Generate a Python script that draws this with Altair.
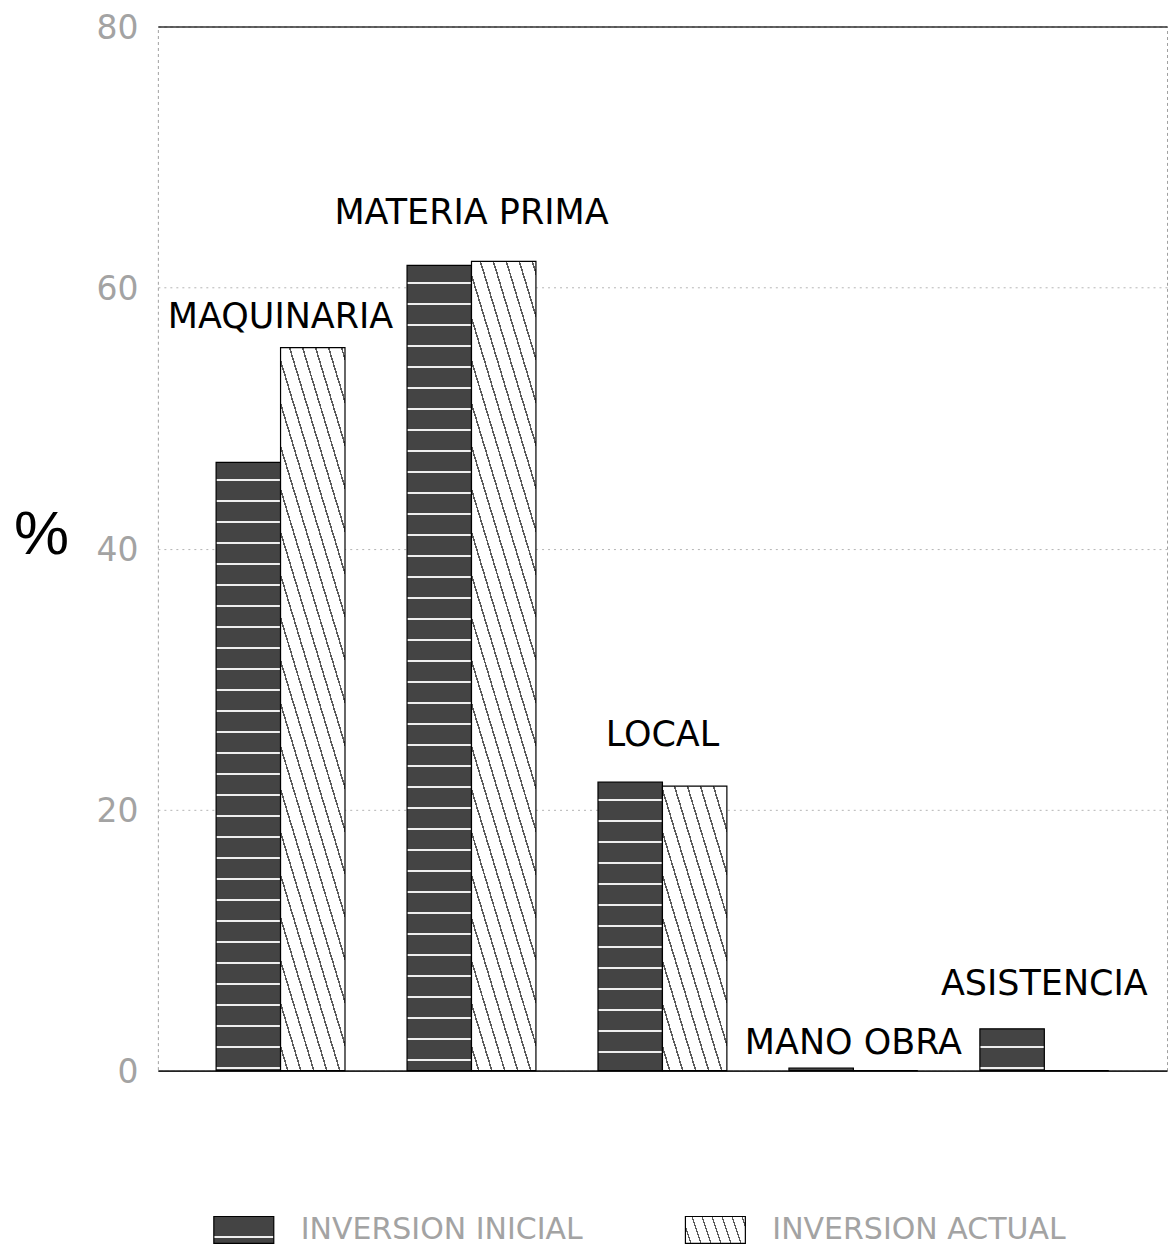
import altair as alt

# ---------------- data ----------------
categories = ["MAQUINARIA", "MATERIA PRIMA", "LOCAL", "MANO OBRA", "ASISTENCIA"]
series = ["INVERSION INICIAL", "INVERSION ACTUAL"]
inicial = [46.6, 61.7, 22.1, 0.2, 3.2]
actual = [55.4, 62.0, 21.8, 0.0, 0.0]
label_y = [56.9, 64.9, 24.9, 1.3, 5.8]
y_ticks = [0, 20, 40, 60, 80]

# ---------------- layout / style ----------------
W = 1010
H = 1045
Y_MAX = 80
P_IN = 0.325
P_OUT = 0.305
STEP = W / (len(categories) - P_IN + 2 * P_OUT)
BAR_W = STEP * (1 - P_IN) / 2

DARK = "#444444"
LIGHT = "#eeeeee"
INK = "#5a5a5a"


def horiz_stripes(h, first=17, gap=21, lw=2.0):
    stops = [{"offset": 0, "color": DARK}]
    p = first
    while h > 0 and p + lw < h:
        a, b = p / h, (p + lw) / h
        stops += [
            {"offset": a, "color": DARK},
            {"offset": a, "color": LIGHT},
            {"offset": b, "color": LIGHT},
            {"offset": b, "color": DARK},
        ]
        p += gap
    stops.append({"offset": 1, "color": DARK})
    return {"gradient": "linear", "x1": 0, "y1": 0, "x2": 0, "y2": 1, "stops": stops}


def hatch(w, h, spacing=13.0, slope=3.3, lw=1.6):
    if h <= 0.5:
        return "white"
    k = h / (slope * w)
    s = (1 + k) / (1 + k * k)
    n = (1 + k) * w / spacing
    d = 1.0 / n
    f = lw / spacing * d
    stops = [{"offset": 0, "color": "white"}]
    t = d * 0.5
    while t + f < 1:
        stops += [
            {"offset": t, "color": "white"},
            {"offset": t, "color": INK},
            {"offset": t + f, "color": INK},
            {"offset": t + f, "color": "white"},
        ]
        t += d
    stops.append({"offset": 1, "color": "white"})
    return {"gradient": "linear", "x1": 0, "y1": 1, "x2": s, "y2": 1 - s * k, "stops": stops}


px = H / Y_MAX
bar_rows = []
for c, vi, va in zip(categories, inicial, actual):
    bar_rows.append({"cat": c, "serie": series[0], "v": vi, "g": horiz_stripes(vi * px)})
    bar_rows.append({"cat": c, "serie": series[1], "v": va, "g": hatch(BAR_W, va * px)})

label_rows = [{"cat": c, "ly": y} for c, y in zip(categories, label_y)]

x_scale = alt.Scale(domain=categories, paddingInner=P_IN, paddingOuter=P_OUT)
y_scale = alt.Scale(domain=[0, Y_MAX], nice=False)
y_axis = alt.Axis(values=y_ticks, grid=True, gridColor="#b5b5b5", gridDash=[2, 4],
                  gridWidth=1, domain=False, ticks=False,
                  labelColor="#a3a3a3", labelFont="DejaVu Sans", labelFontSize=33,
                  labelPadding=20, labelOffset=2,
                  title="%", titleAngle=0, titleX=-117, titleY=508,
                  titleFont="Liberation Sans", titleFontSize=62,
                  titleFontWeight="normal", titleColor="black",
                  titleAlign="center", titleBaseline="middle")

bars = alt.Chart(alt.Data(values=bar_rows)).mark_bar(
    stroke="black", strokeWidth=1.2
).encode(
    x=alt.X("cat:N", sort=categories, scale=x_scale,
            axis=alt.Axis(labels=False, ticks=False, title="", domainColor="#222",
                          domainWidth=1.6, grid=False)),
    xOffset=alt.XOffset("serie:N", sort=series,
                        scale=alt.Scale(domain=series, paddingInner=0, paddingOuter=0)),
    y=alt.Y("v:Q", scale=y_scale, axis=y_axis),
    fill=alt.Fill("g:N", scale=None),
)

labels = alt.Chart(alt.Data(values=label_rows)).mark_text(
    font="DejaVu Sans", fontSize=35, color="black", baseline="alphabetic", align="center"
).encode(
    x=alt.X("cat:N", sort=categories, scale=x_scale,
            axis=alt.Axis(orient="top", labels=False, ticks=False, title="",
                          domainColor="#333", domainWidth=1.6, grid=False)),
    y=alt.Y("ly:Q", scale=y_scale, axis=y_axis),
    text="cat:N",
)

main = alt.layer(bars, labels).resolve_axis(x="independent").properties(
    width=W, height=H,
    view=alt.ViewBackground(stroke="#a0a0a0", strokeDash=[3, 3], strokeWidth=1),
)

# ---------------- legend panel ----------------
legend_rows = [
    {"serie": series[0], "g": horiz_stripes(27, first=20, gap=100)},
    {"serie": series[1], "g": hatch(60, 27, spacing=10, slope=3.0, lw=1.4)},
]
LEG_STEP = 472
leg_x = alt.X("serie:N", sort=series,
              scale=alt.Scale(domain=series, paddingInner=0, paddingOuter=0), axis=None)

swatch = alt.Chart(alt.Data(values=legend_rows)).mark_bar(
    width=60, xOffset=-150, stroke="black", strokeWidth=1.2
).encode(x=leg_x, fill=alt.Fill("g:N", scale=None))

leg_text = alt.Chart(alt.Data(values=legend_rows)).mark_text(
    align="left", dx=-93, baseline="middle", font="DejaVu Sans", fontSize=30, color="#a3a3a3"
).encode(x=leg_x, text="serie:N")

legend = alt.layer(swatch, leg_text).properties(width=2 * LEG_STEP, height=27)

chart = alt.vconcat(main, legend, spacing=124).properties(
    padding={"left": 4, "top": 3, "right": 0, "bottom": 0}
).configure_view(stroke="transparent")

chart.save("out.html", embed_options={"renderer": "svg", "actions": False})
